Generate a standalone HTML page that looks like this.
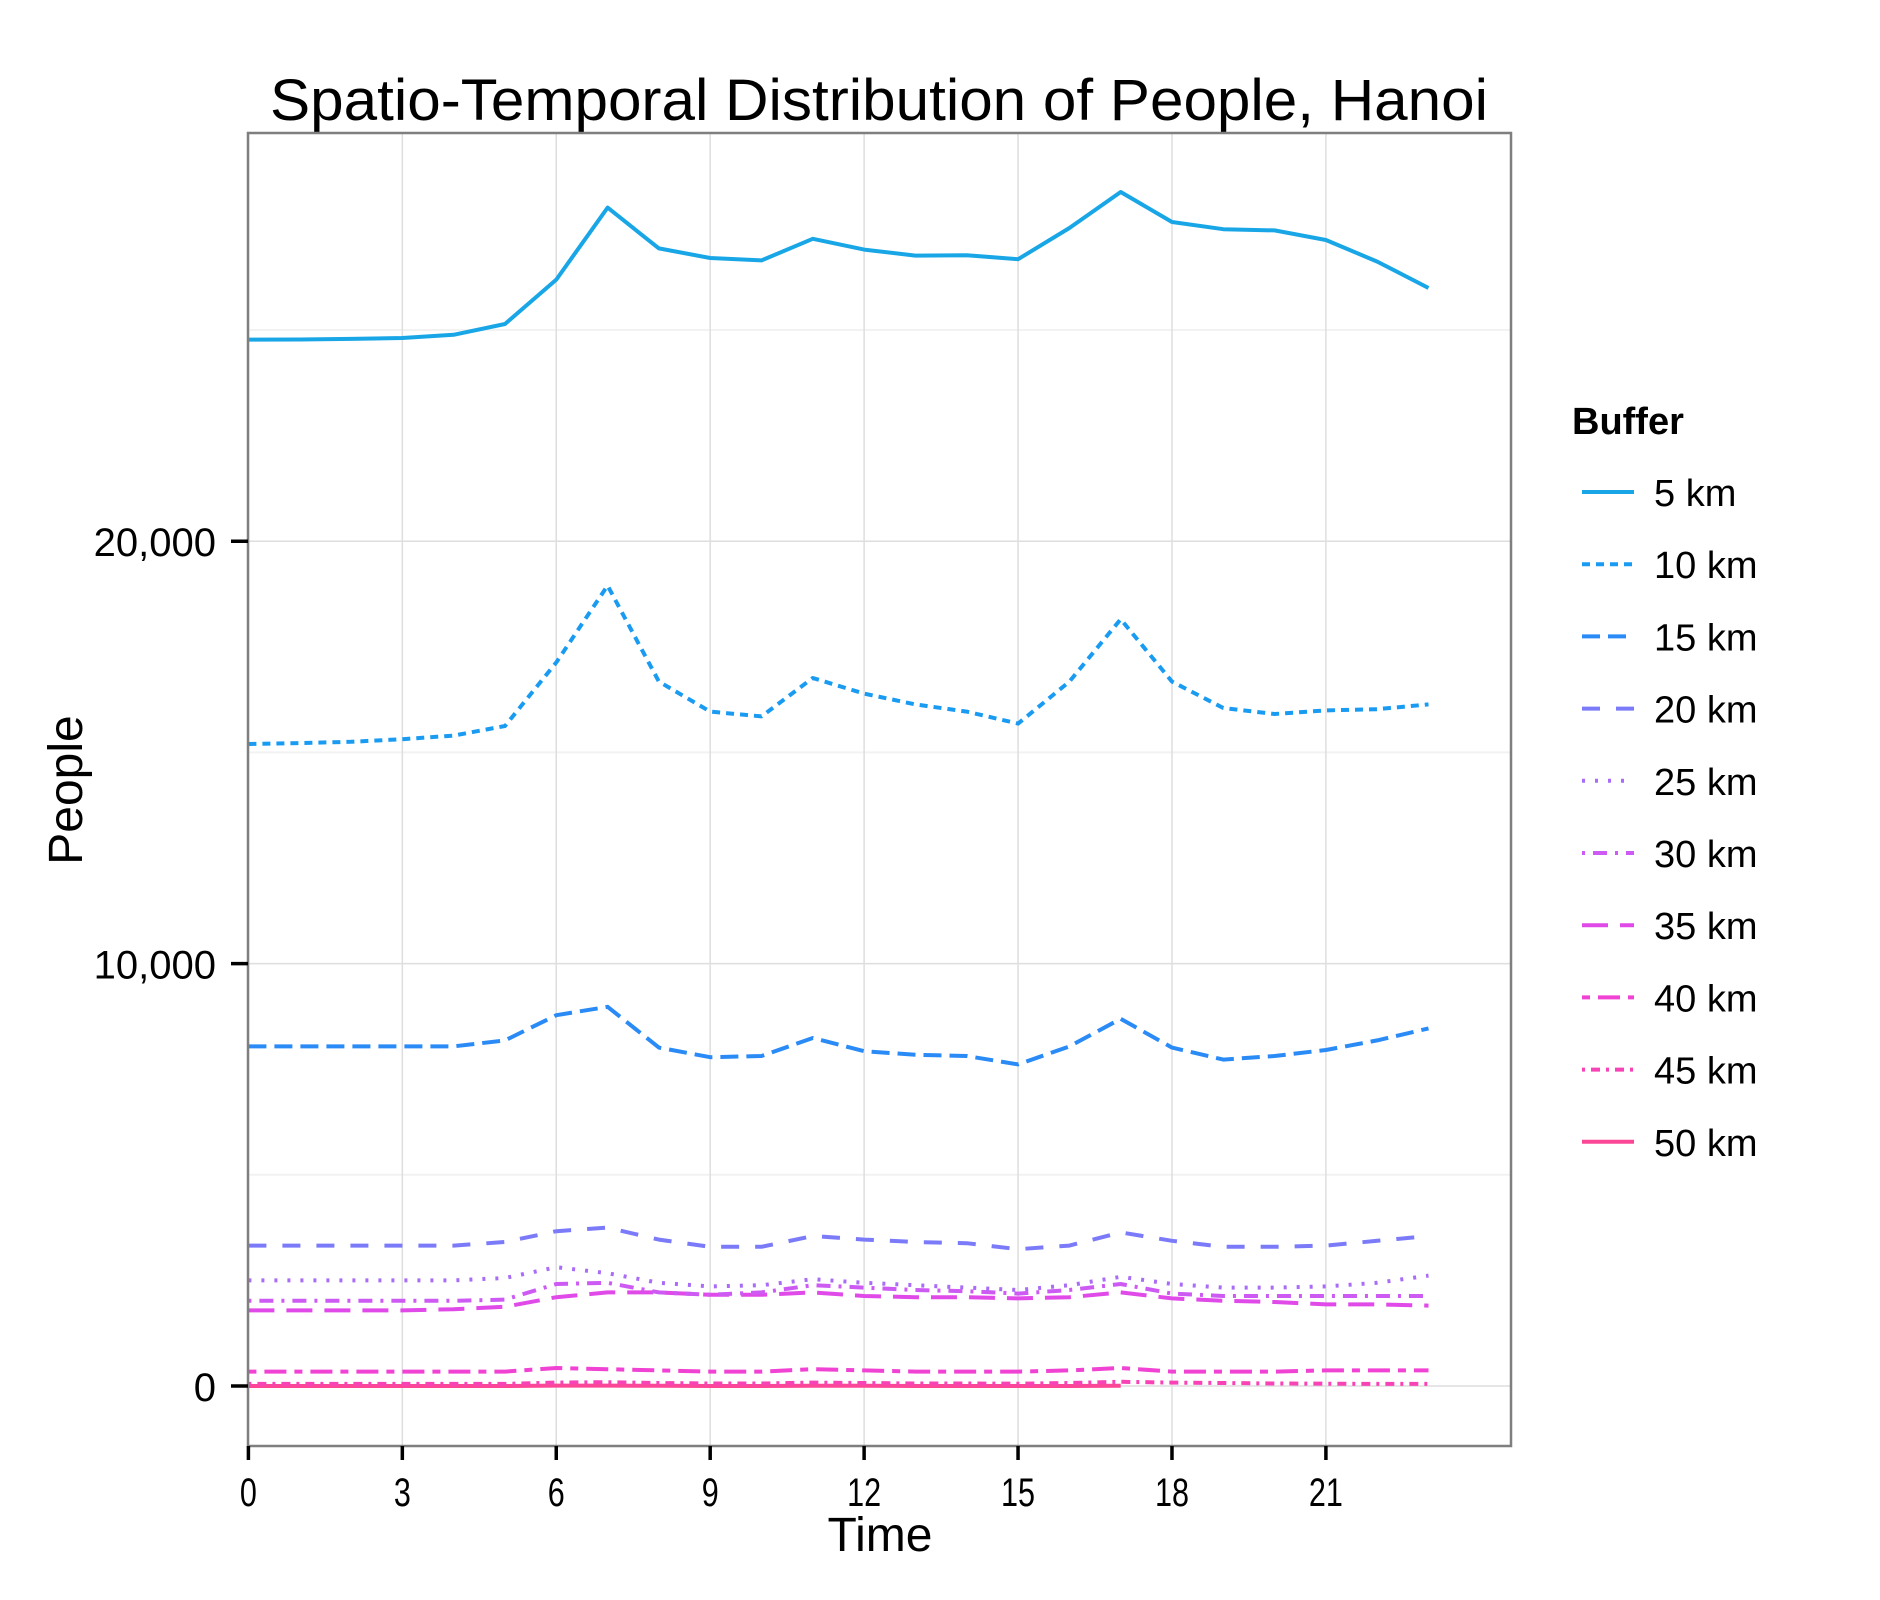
<!DOCTYPE html>
<html><head><meta charset="utf-8"><style>
html,body{margin:0;padding:0;background:#fff;}
svg{display:block;font-family:"Liberation Sans",Arial,sans-serif;}
</style></head><body>
<svg id="chart" width="1880" height="1600" viewBox="0 0 1880 1600">
<rect width="1880" height="1600" fill="#fff"/>
<text x="879" y="120" text-anchor="middle" font-size="58" textLength="1218" lengthAdjust="spacingAndGlyphs">Spatio-Temporal Distribution of People, Hanoi</text>
<g id="grid"></g>
<g id="series"></g>
<rect x="248" y="133" width="1263" height="1313" fill="none" stroke="#7f7f7f" stroke-width="2.5"/>
<g id="axes"></g>
<text x="880" y="1551" text-anchor="middle" font-size="48">Time</text>
<text x="0" y="0" transform="translate(82,790) rotate(-90)" text-anchor="middle" font-size="48">People</text>
<g id="legend"></g>
</svg>
<script>
const hours=[0,1,2,3,4,5,6,7,8,9,10,11,12,13,14,15,16,17,18,19,20,21,22,23];
const seriesNames=["5 km","10 km","15 km","20 km","25 km","30 km","35 km","40 km","45 km","50 km"];
const s5=[24773,24775,24790,24810,24886,25142,26193,27898,26932,26705,26648,27159,26903,26761,26770,26676,27415,28267,27557,27386,27358,27131,26619,25994];
const s10=[15199,15220,15250,15312,15398,15625,17131,18949,16676,15966,15852,16761,16392,16136,15966,15682,16676,18153,16676,16051,15909,15994,16023,16136];
const s15=[8040,8040,8040,8040,8040,8182,8778,8977,8011,7784,7812,8239,7926,7841,7812,7614,8040,8693,8011,7727,7812,7955,8182,8466];
const s20=[3324,3324,3324,3324,3324,3409,3665,3750,3466,3295,3295,3551,3466,3409,3381,3239,3324,3636,3438,3295,3295,3324,3438,3551];
const s25=[2500,2500,2500,2500,2500,2557,2813,2670,2443,2358,2386,2528,2443,2386,2330,2273,2386,2585,2415,2330,2330,2358,2443,2614];
const s30=[2017,2017,2017,2017,2017,2045,2415,2443,2216,2159,2216,2386,2330,2273,2244,2188,2273,2415,2188,2131,2131,2131,2131,2131];
const s35=[1790,1790,1790,1790,1818,1875,2102,2216,2216,2159,2159,2216,2131,2102,2102,2074,2102,2216,2074,2017,1989,1932,1932,1903];
const s40=[341,341,341,341,341,341,426,398,369,341,341,398,369,341,341,341,369,426,341,341,341,369,369,369];
const s45=[50,50,50,50,50,50,80,90,70,60,60,80,70,60,60,55,70,100,80,70,60,55,50,50];
const s50=[0,0,0,0,0,0,10,10,5,0,0,5,5,0,0,0,0,5];
const seriesData=[s5,s10,s15,s20,s25,s30,s35,s40,s45,s50];
const yTicks=[0,10000,20000];
const yTickLabels=["0","10,000","20,000"];
const yMinor=[5000,15000,25000];
const xTicks=[0,3,6,9,12,15,18,21];
const colors=["#19a6e6","#1a9bf2","#2a8bf7","#7b7bfa","#a96cf6","#cc5af3","#e04ae8","#f043d3","#f743b6","#fb4796"];
const dashes=["","8 6","18 8","18 16","3 10","3 8 14 8","26 12","8 8 22 8","3 6 9 6",""];
const NS="http://www.w3.org/2000/svg";
const X0=248,X1=1511,Y0=133,Y1=1446;
function xs(h){return 248.4+h*51.31;}
function ys(v){return 1386-v*0.04224;}
function mk(tag,attrs,parent){const e=document.createElementNS(NS,tag);for(const k in attrs)e.setAttribute(k,attrs[k]);parent.appendChild(e);return e;}
const grid=document.getElementById('grid'),ser=document.getElementById('series'),axes=document.getElementById('axes'),leg=document.getElementById('legend');
yMinor.forEach(v=>{const l=mk('line',{x1:X0,x2:X1,y1:ys(v),y2:ys(v),stroke:'#f2f2f2','stroke-width':2},grid);

});
xTicks.forEach(h=>{const l=mk('line',{x1:xs(h),x2:xs(h),y1:Y0,y2:Y1,stroke:'#dedede','stroke-width':1.5},grid);


const t=mk('line',{x1:xs(h),x2:xs(h),y1:Y1,y2:Y1+14,stroke:'#000','stroke-width':3.5},axes);


const tx=mk('text',{x:xs(h),y:1506,'text-anchor':'middle','font-size':40},axes);tx.textContent=String(h);
tx.setAttribute('textLength',String(h).length*17);
tx.setAttribute('lengthAdjust','spacingAndGlyphs');

});
yTicks.forEach((v,i)=>{const l=mk('line',{x1:X0,x2:X1,y1:ys(v),y2:ys(v),stroke:'#dedede','stroke-width':1.5},grid);


const t=mk('line',{x1:X0-17,x2:X0,y1:ys(v),y2:ys(v),stroke:'#000','stroke-width':3.5},axes);


const tx=mk('text',{x:216,y:ys(v)+15,'text-anchor':'end','font-size':40},axes);tx.textContent=yTickLabels[i];

});
for(let i=seriesData.length-1;i>=0;i--){const d=seriesData[i];
const pts=d.map((v,j)=>xs(hours[j]).toFixed(1)+','+ys(v).toFixed(1)).join(' ');
const a={points:pts,fill:'none',stroke:colors[i],'stroke-width':4,'stroke-linejoin':'round'};if(dashes[i])a['stroke-dasharray']=dashes[i];
const p=mk('polyline',a,ser);

}
const lt=mk('text',{x:1572,y:434,'font-size':38,'font-weight':'bold'},leg);lt.textContent='Buffer';


seriesNames.forEach((n,i)=>{const y=492+i*72.2;
const g=mk('g',{},leg);


const a={x1:1582,x2:1634,y1:y,y2:y,stroke:colors[i],'stroke-width':4};if(dashes[i])a['stroke-dasharray']=dashes[i];
const l=mk('line',a,g);


const t=mk('text',{x:1654,y:y+14,'font-size':38},g);t.textContent=n;

});
</script>
</body></html>
